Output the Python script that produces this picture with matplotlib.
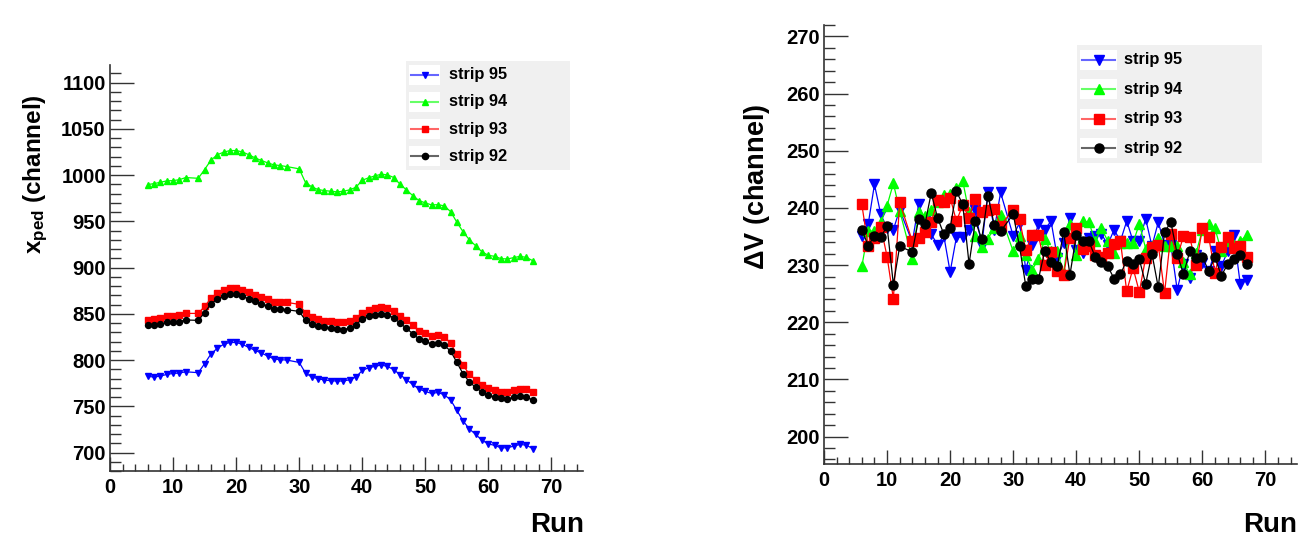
import numpy as np
import matplotlib.pyplot as plt
from matplotlib.lines import Line2D
from matplotlib.patches import Rectangle
from matplotlib.ticker import MultipleLocator

plt.rcParams['font.family'] = ['Liberation Sans', 'DejaVu Sans']
plt.rcParams['font.weight'] = 'bold'
plt.rcParams['mathtext.fontset'] = 'custom'
plt.rcParams['mathtext.rm'] = 'Liberation Sans:bold'
plt.rcParams['mathtext.it'] = 'Liberation Sans:bold'
plt.rcParams['mathtext.bf'] = 'Liberation Sans:bold'

# run numbers (13 and 29 missing)
runs = list(range(6, 13)) + list(range(14, 29)) + list(range(30, 68))

# pedestal position per strip
ped95 = [782.3, 781.6, 782.7, 784.4, 785.5, 785.9, 787.3,
         786.3, 796.0, 806.5, 812.6, 816.9, 819.0, 819.0, 816.9, 813.6, 810.4, 807.6, 804.3, 801.1, 800.3, 800.0,
         797.4, 785.9, 781.6, 779.8, 778.4, 777.6, 777.3, 777.3, 778.7, 781.6, 788.7, 791.7, 793.1, 794.6, 793.1,
         789.5, 784.1, 778.7, 773.6, 768.6, 766.0, 763.9, 764.9, 762.4, 757.0, 745.5, 734.0, 725.3, 719.5, 713.0,
         709.4, 707.6, 705.1, 705.1, 706.9, 708.7, 708.0, 704.3]
ped94 = [989.7, 990.8, 992.2, 993.7, 994.0, 995.0, 997.3,
         996.5, 1006.0, 1016.0, 1021.9, 1024.7, 1026.5, 1026.5, 1025.0, 1022.0, 1018.6, 1015.7, 1013.2, 1011.0, 1010.3, 1009.2,
         1006.7, 991.9, 987.2, 984.3, 983.2, 982.5, 981.8, 982.5, 984.0, 986.8, 994.4, 997.0, 999.1, 1000.9, 1000.2,
         997.3, 990.0, 984.0, 977.8, 972.4, 969.9, 967.7, 968.0, 966.7, 960.5, 949.0, 938.5, 929.9, 923.4, 916.9,
         913.2, 912.1, 909.6, 909.3, 910.7, 912.1, 911.0, 907.5]
ped93 = [843.6, 844.7, 845.8, 847.6, 847.6, 849.0, 850.4,
         850.4, 858.0, 866.7, 872.1, 875.3, 877.5, 877.5, 875.8, 873.6, 869.9, 868.2, 866.0, 863.1, 862.8, 862.3,
         860.2, 850.9, 846.1, 844.4, 842.5, 841.8, 841.1, 840.7, 842.5, 845.0, 851.2, 854.1, 855.8, 857.4, 856.6,
         853.0, 848.0, 842.9, 837.4, 831.7, 829.2, 826.3, 827.4, 824.9, 818.4, 806.1, 794.2, 784.4, 778.4, 772.9,
         769.7, 767.9, 764.9, 764.9, 767.1, 768.6, 768.6, 765.7]
ped92 = [837.4, 838.2, 838.5, 841.1, 841.1, 841.5, 843.3,
         842.9, 851.2, 860.6, 865.6, 868.8, 871.0, 871.0, 868.8, 866.3, 863.4, 860.9, 858.4, 855.5, 855.2, 854.4,
         852.6, 842.9, 838.5, 836.4, 835.7, 834.6, 833.1, 832.8, 834.6, 837.9, 844.4, 847.2, 848.7, 850.1, 849.0,
         845.5, 840.0, 834.2, 828.5, 822.7, 820.1, 817.3, 818.7, 815.8, 809.7, 797.4, 784.8, 776.2, 770.3, 765.4,
         761.7, 760.0, 758.4, 757.8, 759.5, 760.6, 760.3, 756.7]

# delta V per strip
dv95 = [235.1, 237.1, 244.1, 238.9, 236.5, 236.2, 239.7,
        234.0, 240.6, 237.7, 235.4, 233.6, 235.1, 228.8, 234.9, 234.9, 236.2, 239.6, 233.3, 242.7, 236.2, 242.7,
        235.1, 237.4, 229.2, 233.5, 237.2, 236.2, 237.7, 231.3, 233.9, 238.3, 232.7, 232.1, 234.8, 235.1, 235.4,
        233.6, 236.2, 234.2, 237.7, 234.2, 234.2, 238.1, 233.3, 237.5, 233.6, 233.5, 225.7, 230.2, 227.7, 231.8,
        230.4, 228.9, 232.4, 229.8, 232.4, 235.2, 226.7, 227.4]
dv94 = [229.8, 235.9, 236.0, 237.5, 240.4, 244.3, 239.5,
        231.1, 239.3, 238.6, 239.7, 241.0, 242.2, 242.4, 243.4, 244.7, 239.2, 235.1, 233.2, 234.6, 236.5, 238.7,
        232.4, 235.0, 231.7, 229.2, 231.0, 234.5, 232.4, 232.5, 228.6, 237.1, 231.8, 237.7, 237.5, 234.2, 236.4,
        234.2, 232.1, 233.9, 233.8, 233.9, 237.2, 232.9, 233.3, 234.8, 233.4, 233.3, 233.3, 230.5, 228.4, 232.1,
        236.2, 237.1, 236.4, 232.4, 234.2, 233.6, 234.2, 235.2]
dv93 = [240.6, 233.3, 234.8, 236.7, 231.5, 224.1, 241.0,
        234.2, 234.8, 235.8, 237.5, 241.3, 241.1, 241.8, 237.7, 240.5, 238.3, 241.6, 239.3, 239.7, 239.8, 236.9,
        239.7, 238.0, 232.6, 235.2, 235.2, 230.1, 232.3, 229.0, 228.3, 234.8, 236.5, 232.9, 233.4, 231.7, 231.5,
        232.1, 233.7, 234.2, 225.4, 229.5, 225.3, 231.3, 233.1, 233.6, 225.1, 235.5, 231.3, 235.1, 234.9, 230.0,
        236.4, 234.9, 228.7, 233.2, 234.9, 233.0, 233.4, 231.4]
dv92 = [236.2, 233.4, 235.1, 234.9, 236.8, 226.6, 233.3,
        232.3, 238.0, 237.1, 242.6, 238.3, 235.4, 236.5, 242.9, 240.6, 230.2, 237.7, 234.6, 242.1, 237.0, 235.9,
        238.9, 233.3, 226.3, 227.6, 227.5, 232.5, 230.5, 229.8, 235.8, 228.3, 235.2, 234.2, 234.2, 231.4, 230.5,
        229.8, 227.6, 228.4, 230.8, 230.2, 231.0, 226.7, 232.0, 226.1, 235.8, 237.5, 232.0, 228.4, 232.4, 231.3,
        231.5, 228.9, 231.4, 228.1, 230.2, 231.1, 231.7, 230.2]

labels = ['strip 95', 'strip 94', 'strip 93', 'strip 92']
colors = ['#0000ff', '#00ff00', '#ff0000', '#000000']
markers = ['v', '^', 's', 'o']

W, H = 1299, 539
fig = plt.figure(figsize=(W / 100, H / 100), dpi=100)


def px_axes(x0, y0, x1, y1):
    return fig.add_axes([x0 / W, 1 - y1 / H, (x1 - x0) / W, (y1 - y0) / H])


def style(ax, ymaj, ymin):
    for s in ['top', 'right']:
        ax.spines[s].set_visible(False)
    for s in ['left', 'bottom']:
        ax.spines[s].set_linewidth(1.2)
        ax.spines[s].set_color('#333333')
    ax.xaxis.set_major_locator(MultipleLocator(10))
    ax.xaxis.set_minor_locator(MultipleLocator(2))
    ax.yaxis.set_major_locator(MultipleLocator(ymaj))
    ax.yaxis.set_minor_locator(MultipleLocator(ymin))
    ax.tick_params(direction='in', which='both', width=1, color='#333333',
                   labelsize=14.5, top=False, right=False)
    ax.tick_params(axis='y', which='major', length=17, pad=3)
    ax.tick_params(axis='y', which='minor', length=8)
    ax.tick_params(axis='x', which='major', length=10, pad=5)
    ax.tick_params(axis='x', which='minor', length=5)
    for t in ax.get_xticklabels() + ax.get_yticklabels():
        t.set_fontweight('bold')


def legend(x0, y0, x1, y1, ms, sample_w, text_dx):
    fig.patches.append(Rectangle((x0 / W, 1 - y1 / H), (x1 - x0) / W, (y1 - y0) / H,
                                 transform=fig.transFigure, facecolor='#f0f0f0',
                                 edgecolor='none', zorder=0))
    step = (y1 - y0) / 4
    for i, (lab, c, m) in enumerate(zip(labels, colors, markers)):
        yc = y0 + step * (i + 0.5)
        fig.patches.append(Rectangle(((x0 + 3) / W, 1 - (yc + 10) / H), (sample_w + 4) / W, 20 / H,
                                     transform=fig.transFigure, facecolor='white',
                                     edgecolor='none', zorder=1))
        fig.add_artist(Line2D([(x0 + 5) / W, (x0 + 5 + sample_w) / W], [1 - yc / H, 1 - yc / H],
                              transform=fig.transFigure, color=c, lw=1.5, alpha=0.6, zorder=2))
        fig.add_artist(Line2D([(x0 + 5 + sample_w / 2) / W], [1 - yc / H], transform=fig.transFigure,
                              color=c, marker=m, ms=ms, lw=0, zorder=3))
        fig.text((x0 + text_dx) / W, 1 - yc / H, lab, fontsize=11.8, fontweight='bold',
                 va='center', ha='left')


# left pad
ax1 = px_axes(110, 65, 583, 471)
for y, lab, c, m in zip([ped95, ped94, ped93, ped92], labels, colors, markers):
    ax1.plot(runs, y, color=c, marker=m, ms=4.3, lw=0.9, label=lab)
ax1.set_xlim(0, 75)
ax1.set_ylim(680, 1119)
style(ax1, 50, 10)
fig.text(36 / W, 1 - 94 / H, r'$\mathbf{x}_{\mathbf{ped}}$ (channel)', rotation=90,
         fontsize=17.5, fontweight='bold', ha='center', va='top')
fig.text(584 / W, 1 - 525 / H, 'Run', fontsize=20, fontweight='bold', ha='right', va='center')
legend(406, 61, 570, 170, 4.5, 27, 43)

# right pad
ax2 = px_axes(824, 25, 1297, 464)
for y, lab, c, m in zip([dv95, dv94, dv93, dv92], labels, colors, markers):
    ax2.plot(runs, y, color=c, marker=m, ms=6.5, lw=0.9, label=lab)
ax2.set_xlim(0, 75)
ax2.set_ylim(195.2, 272)
style(ax2, 10, 2)
fig.text(757 / W, 1 - 104 / H, r'$\Delta$V (channel)', rotation=90,
         fontsize=19.5, fontweight='bold', ha='center', va='top')
fig.text(1297 / W, 1 - 525 / H, 'Run', fontsize=20, fontweight='bold', ha='right', va='center')
legend(1077, 45, 1262, 163, 6.5, 33, 47)

fig.savefig('out.png', dpi=100)
